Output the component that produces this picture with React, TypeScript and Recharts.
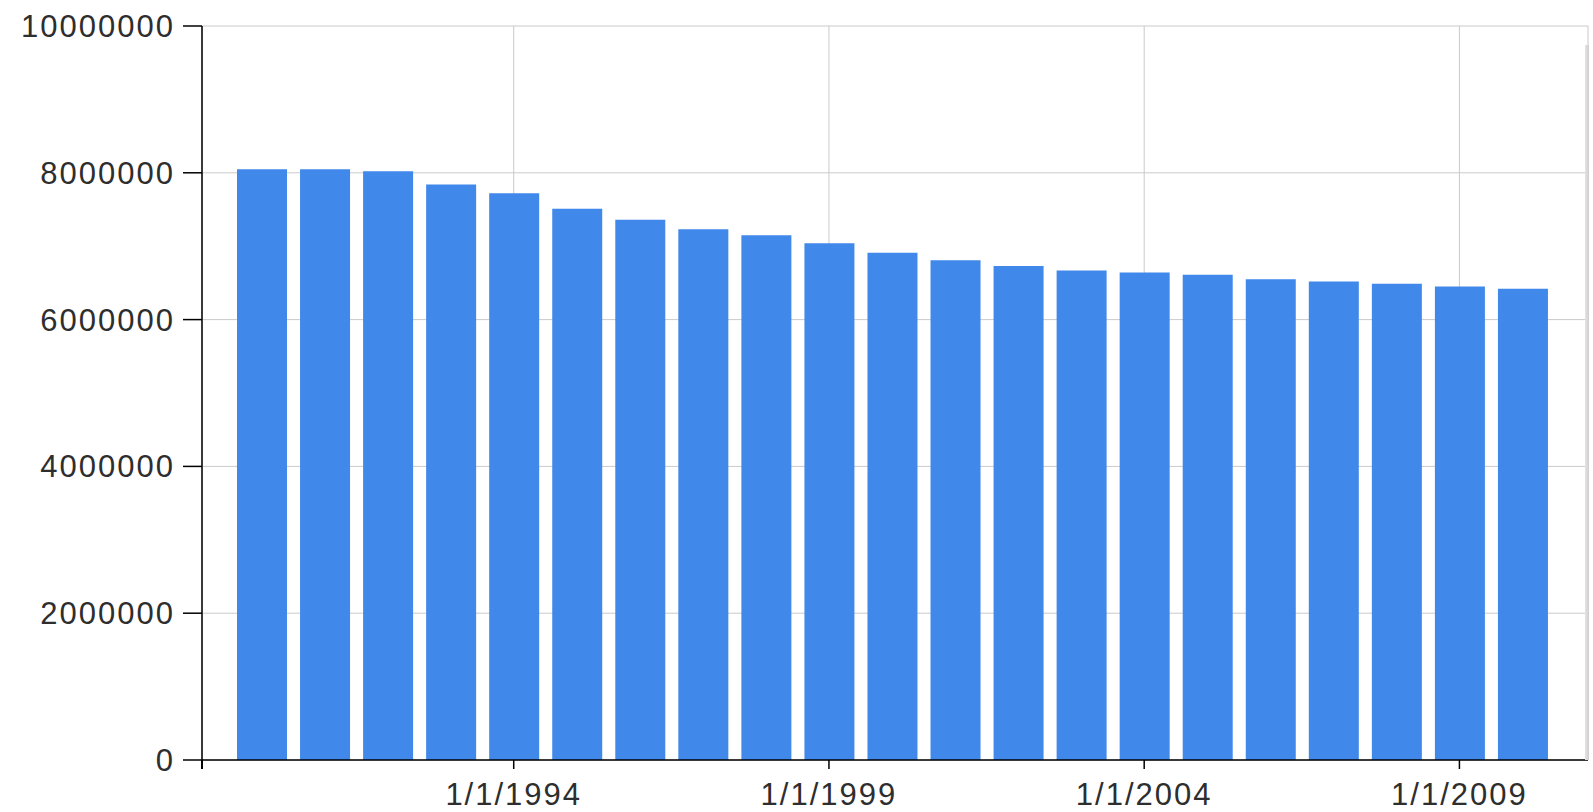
import { Bar, BarChart, CartesianGrid, XAxis, YAxis } from 'recharts';

const years = [
  '1/1/1990', '1/1/1991', '1/1/1992', '1/1/1993', '1/1/1994', '1/1/1995', '1/1/1996',
  '1/1/1997', '1/1/1998', '1/1/1999', '1/1/2000', '1/1/2001', '1/1/2002', '1/1/2003',
  '1/1/2004', '1/1/2005', '1/1/2006', '1/1/2007', '1/1/2008', '1/1/2009', '1/1/2010',
];

const values = [
  8050000, 8050000, 8020000, 7840000, 7720000, 7510000, 7360000,
  7230000, 7150000, 7040000, 6910000, 6810000, 6730000, 6670000,
  6640000, 6610000, 6550000, 6520000, 6490000, 6450000, 6420000,
];

const xTicks = ['1/1/1994', '1/1/1999', '1/1/2004', '1/1/2009'];
const yTicks = [0, 2000000, 4000000, 6000000, 8000000, 10000000];

const data = years.map((label, i) => ({ label, value: values[i] }));

const tickStyle = {
  fill: '#2e2e2e',
  fontSize: 31,
  fontFamily: '"Liberation Sans", Arial, sans-serif',
  letterSpacing: 2,
};

const App = () => {
  return (
    <div style={{ position: 'absolute', left: 0, top: 0, width: 1593, height: 812, background: '#fff' }}>
      <BarChart
        width={1593}
        height={812}
        data={data}
        margin={{ top: 26, right: 5, left: 0, bottom: 0 }}
      >
        <CartesianGrid stroke="#cacaca" strokeWidth={1} />
        <XAxis
          dataKey="label"
          type="category"
          ticks={xTicks}
          height={52}
          padding={{ left: 28, right: 34 }}
          axisLine={{ stroke: '#000', strokeWidth: 1.5 }}
          tickLine={{ stroke: '#000', strokeWidth: 1.5 }}
          tickSize={9}
          tickMargin={14}
          tick={tickStyle}
          interval={0}
        />
        <YAxis
          domain={[0, 10000000]}
          ticks={yTicks}
          width={202}
          axisLine={{ stroke: '#000', strokeWidth: 1.5 }}
          tickLine={{ stroke: '#000', strokeWidth: 1.5 }}
          tickSize={19}
          tickMargin={8}
          tick={tickStyle}
          tickFormatter={(v: number) => String(v)}
        />
        <Bar dataKey="value" fill="#4088ea" barSize={50} isAnimationActive={false} />
      </BarChart>
      {/* faint frame shadow on the right edge */}
      <div
        style={{
          position: 'absolute',
          left: 1585,
          top: 45,
          width: 4,
          height: 715,
          background: 'linear-gradient(to right, #e4e4e4, #cfcfcf)',
        }}
      />
      {/* y axis runs a little past the x axis */}
      <div style={{ position: 'absolute', left: 201, top: 760, width: 1.5, height: 9, background: '#000' }} />
    </div>
  );
};

export default App;
